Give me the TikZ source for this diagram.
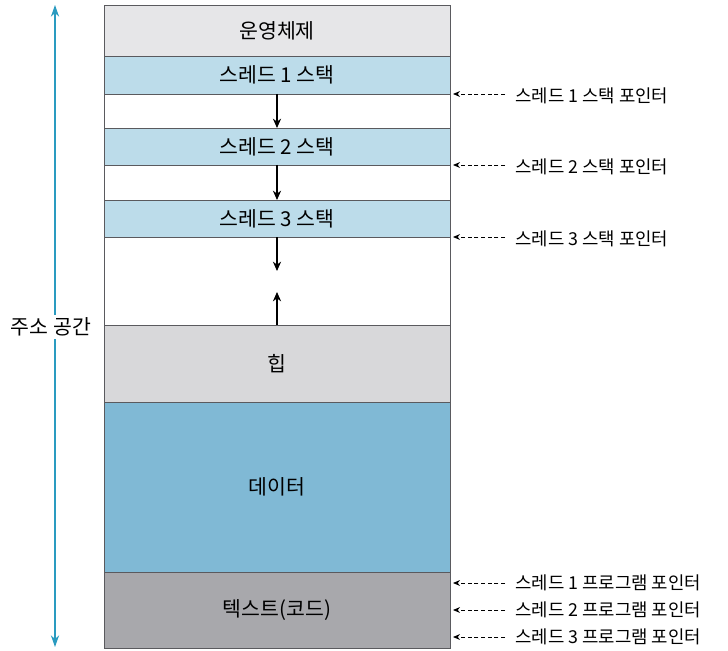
\documentclass[tikz,border=0pt]{standalone}
\usepackage{fontspec}
\setmainfont{Noto Sans CJK KR}
\usetikzlibrary{arrows.meta}

\definecolor{osgray}{HTML}{E6E6E8}
\definecolor{stackblue}{HTML}{BCDCEA}
\definecolor{heapgray}{HTML}{D8D8DA}
\definecolor{datablue}{HTML}{80B9D5}
\definecolor{codegray}{HTML}{A8A8AC}
\definecolor{axisblue}{HTML}{2A9BC0}
\definecolor{edgegray}{HTML}{5A5A5E}

\tikzset{
    segment/.style={draw=edgegray, line width=0.6pt, minimum width=10.38cm,
        inner sep=0pt, outer sep=0pt, font=\fontsize{17.5}{20}\selectfont},
    pointer/.style={anchor=west, inner sep=0pt, font=\fontsize{15.2}{18}\selectfont},
    ptrarrow/.style={line width=0.75pt, dash pattern=on 3.5pt off 2.2pt,
        -{Stealth[length=6pt,width=5pt]}},
    growarrow/.style={line width=0.9pt, -{Stealth[length=8pt,width=7pt]}}
}

\begin{document}
\begin{tikzpicture}[x=0.03cm,y=-0.03cm]
    \useasboundingbox (0,0) rectangle (728,651);

    % Memory segments
    \node[segment, fill=osgray, minimum height=1.53cm] (os) at (277,30.5) {운영체제};
    \node[segment, fill=stackblue, minimum height=1.14cm] (st1) at (277,75) {스레드 1 스택};
    \node[segment, fill=white, minimum height=1.02cm] (gap1) at (277,111) {};
    \node[segment, fill=stackblue, minimum height=1.11cm] (st2) at (277,146.5) {스레드 2 스택};
    \node[segment, fill=white, minimum height=1.05cm] (gap2) at (277,182.5) {};
    \node[segment, fill=stackblue, minimum height=1.11cm] (st3) at (277,218.5) {스레드 3 스택};
    \node[segment, fill=white, minimum height=2.64cm] (free) at (277,281) {};
    \node[segment, fill=heapgray, minimum height=2.31cm] (heap) at (277,363.5) {힙};
    \node[segment, fill=datablue, minimum height=5.1cm] (data) at (277,487) {데이터};
    \node[segment, fill=codegray, minimum height=2.28cm] (code) at (277,610) {텍스트(코드)};

    % Stack and heap growth
    \draw[growarrow] (st1.south) -- (st2.north);
    \draw[growarrow] (st2.south) -- (st3.north);
    \coordinate (stackend) at (277,271);
    \coordinate (heapend) at (277,292);
    \draw[growarrow] (st3.south) -- (stackend);
    \draw[growarrow] (heap.north) -- (heapend);

    % Stack pointers
    \node[pointer] (sp1) at (515,96) {스레드 1 스택 포인터};
    \node[pointer] (sp2) at (515,167) {스레드 2 스택 포인터};
    \node[pointer] (sp3) at (515,239) {스레드 3 스택 포인터};
    \draw[ptrarrow] ([xshift=-0.3cm]sp1.west |- st1.south) -- ([xshift=0.09cm]st1.south east);
    \draw[ptrarrow] ([xshift=-0.3cm]sp2.west |- st2.south) -- ([xshift=0.09cm]st2.south east);
    \draw[ptrarrow] ([xshift=-0.3cm]sp3.west |- st3.south) -- ([xshift=0.09cm]st3.south east);

    % Program counters
    \node[pointer] (pc1) at (515,583) {스레드 1 프로그램 포인터};
    \node[pointer] (pc2) at (515,610) {스레드 2 프로그램 포인터};
    \node[pointer] (pc3) at (515,637) {스레드 3 프로그램 포인터};
    \draw[ptrarrow] ([xshift=-0.3cm]pc1.west) -- ([xshift=0.09cm]pc1.west -| code.east);
    \draw[ptrarrow] ([xshift=-0.3cm]pc2.west) -- ([xshift=0.09cm]pc2.west -| code.east);
    \draw[ptrarrow] ([xshift=-0.3cm]pc3.west) -- ([xshift=0.09cm]pc3.west -| code.east);

    % Address space
    \coordinate (addrtop) at (55,5);
    \coordinate (addrbot) at (55,647);
    \draw[axisblue, line width=1pt, {Stealth[length=10pt,width=7pt]}-{Stealth[length=10pt,width=7pt]}] (addrbot) -- (addrtop);
    \node[fill=white, inner sep=2pt, font=\fontsize{17.5}{20}\selectfont] (addr) at (51,327) {주소 공간};
\end{tikzpicture}
\end{document}
